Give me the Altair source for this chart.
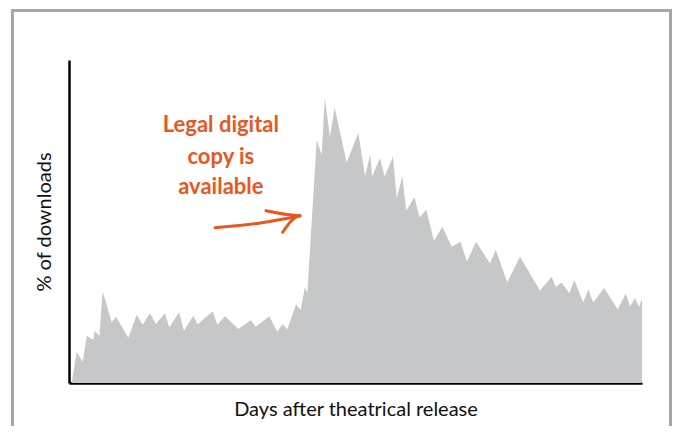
import altair as alt
import pandas as pd

# Days after release (x) and % of downloads (y)
days = [0.57, 1.61, 2.87, 3.71, 5.09, 5.38, 6.35, 7.06, 8.94, 9.84,
        12.42, 14.18, 15.43, 16.96, 18.22, 20.10, 21.00, 23.04, 24.08, 26.03,
        26.95, 30.09, 31.06, 32.67, 35.46, 38.05, 39.10, 41.95, 43.62, 44.75,
        45.72, 47.54, 48.52, 49.42, 49.91, 51.88, 52.93, 53.55, 54.66, 55.64,
        58.16, 60.59, 61.99, 63.10, 63.46, 65.13, 66.12, 67.85, 68.63, 69.80,
        70.64, 72.34, 73.40, 74.81, 76.44, 78.18, 80.15, 81.99, 83.35, 85.24,
        88.17, 89.36, 91.79, 94.45, 98.64, 101.09, 101.93, 103.18, 104.77, 105.82,
        107.71, 108.75, 109.80, 112.04, 114.91, 116.59, 117.49, 118.53, 119.37, 120.0]
downloads = [0.0, 0.97, 0.66, 1.46, 1.33, 1.62, 1.46, 2.83, 1.87, 2.05,
             1.40, 2.11, 1.80, 2.16, 1.83, 2.16, 1.72, 2.19, 1.62, 2.08,
             1.82, 2.22, 1.80, 2.07, 1.67, 1.95, 1.74, 2.07, 1.59, 1.83,
             1.66, 2.44, 2.26, 2.98, 2.78, 7.52, 7.06, 8.81, 7.63, 8.52,
             6.82, 7.75, 6.41, 7.09, 6.39, 6.96, 6.39, 7.01, 5.72, 6.39,
             5.33, 5.76, 5.12, 5.36, 4.40, 4.84, 4.22, 4.37, 3.76, 4.37,
             3.70, 4.12, 3.12, 3.91, 2.86, 3.29, 2.98, 3.11, 2.78, 3.19,
             2.49, 2.90, 2.49, 2.94, 2.28, 2.76, 2.38, 2.63, 2.36, 2.60]

note_lines = ["Legal digital", "copy is", "available"]
note_x = [31.8, 31.8, 31.8]
note_y = [7.99, 7.0, 6.07]

arrow_part = ["shaft", "shaft", "shaft", "head", "head", "head"]
arrow_order = [0, 1, 2, 0, 1, 2]
arrow_x = [30.58, 39.31, 48.38, 41.26, 48.38, 44.75]
arrow_y = [4.81, 4.94, 5.18, 5.33, 5.18, 4.67]

df = pd.DataFrame({"day": days, "pct": downloads})
notes = pd.DataFrame({"x": note_x, "y": note_y, "t": note_lines})
arrow = pd.DataFrame({"part": arrow_part, "o": arrow_order, "x": arrow_x, "y": arrow_y})

ORANGE = "#e9571d"
FRAME = "#a6a6a6"

xscale = alt.Scale(domain=[0, 120], nice=False, zero=False)
yscale = alt.Scale(domain=[0, 10], nice=False)

one = alt.Data(values=[{"k": 1}])

frame_left = alt.Chart(one).mark_rule(color=FRAME, strokeWidth=3).encode(
    x=alt.value(-56.5), y=alt.value(-49.5), y2=alt.value(420))
frame_top = alt.Chart(one).mark_rule(color=FRAME, strokeWidth=3).encode(
    x=alt.value(-58), x2=alt.value(610), y=alt.value(-49.5))
frame_right = alt.Chart(one).mark_rule(color=FRAME, strokeWidth=3).encode(
    x=alt.value(601.5), y=alt.value(-49.5), y2=alt.value(420))

area = alt.Chart(df).mark_area(color="#c6c7c9", opacity=1, interpolate="linear").encode(
    x=alt.X("day:Q", scale=xscale,
            axis=alt.Axis(title="Days after theatrical release", labels=False, ticks=False,
                          grid=False, domainColor="black", domainWidth=2.5,
                          titleFont="Lato", titleFontSize=20, titleFontWeight="normal",
                          titleColor="#111111", titlePadding=16)),
    y=alt.Y("pct:Q", scale=yscale,
            axis=alt.Axis(title="% of downloads", labels=False, ticks=False,
                          grid=False, domainColor="black", domainWidth=2.5,
                          titleFont="Lato", titleFontSize=20, titleFontWeight="normal",
                          titleColor="#111111", titlePadding=15)),
)

text = alt.Chart(notes).mark_text(font="Lato", fontSize=22, fontWeight="bold",
                                  color=ORANGE, align="center", baseline="middle").encode(
    x=alt.X("x:Q", scale=xscale), y=alt.Y("y:Q", scale=yscale), text="t:N")

arrows = alt.Chart(arrow).mark_line(color=ORANGE, strokeWidth=3, strokeCap="round",
                                    strokeJoin="round", interpolate="monotone").encode(
    x=alt.X("x:Q", scale=xscale), y=alt.Y("y:Q", scale=yscale),
    detail="part:N", order="o:Q")

chart = alt.layer(frame_left, frame_top, frame_right, area, text, arrows).properties(
    width=573, height=323,
    background="white",
    autosize=alt.AutoSizeParams(type="none"),
    padding={"left": 61, "top": 52, "right": 30, "bottom": 43},
).configure_view(stroke=None)

chart.save("out.html", embed_options={"renderer": "svg", "actions": False})
